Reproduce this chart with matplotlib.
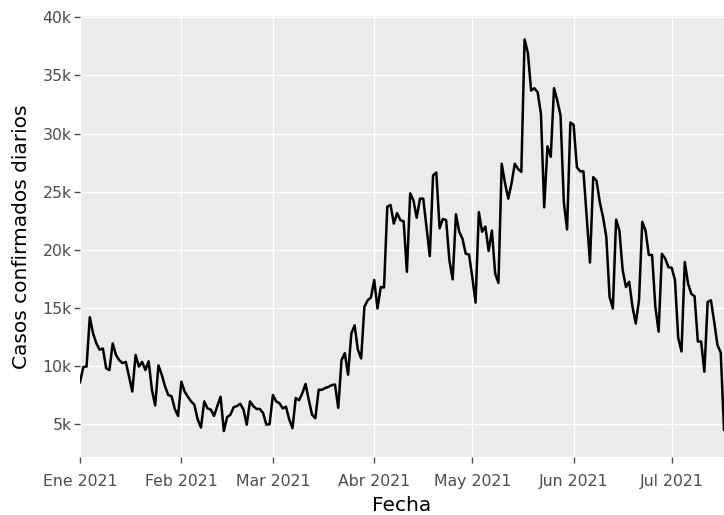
import numpy as np
import pandas as pd
import matplotlib
matplotlib.use("Agg")
import matplotlib.pyplot as plt

# casos diarios (1 ene 2021 en adelante)
casos = [
    8600, 9900, 9950, 14200, 12800, 11950, 11400, 11500, 9800, 9650,
    11950, 10950, 10500, 10250, 10350, 9100, 7800, 10950, 9950, 10350,
    9650, 10400, 7950, 6600, 10050, 9250, 8250, 7500, 7400, 6300,
    5700, 8650, 7800, 7350, 6950, 6650, 5400, 4700, 6950, 6350,
    6250, 5700, 6550, 7350, 4400, 5600, 5800, 6450, 6550, 6750,
    6250, 4950, 6950, 6550, 6300, 6300, 5950, 4950, 5000, 7500,
    6950, 6800, 6350, 6500, 5400, 4650, 7250, 7050, 7650, 8450,
    7050, 5800, 5500, 7950, 7950, 8100, 8200, 8350, 8400, 6400,
    10500, 11100, 9250, 12800, 13500, 11400, 10650, 15100, 15650, 15900,
    17400, 14950, 16800, 16750, 23700, 23850, 22250, 23150, 22550, 22450,
    18100, 24850, 24250, 22750, 24400, 24400, 21950, 19450, 26400, 26650,
    21850, 22650, 22550, 19100, 17450, 23050, 21550, 20950, 19650, 19600,
    17650, 15450, 23250, 21550, 22000, 19900, 21650, 17950, 17150, 27400,
    25750, 24400, 25700, 27400, 26950, 26700, 38100, 36950, 33700, 33900,
    33550, 31700, 23650, 28900, 28000, 33900, 32850, 31550, 24100, 21750,
    30950, 30750, 27100, 26750, 26750, 22800, 18900, 26250, 25950, 24100,
    22800, 21100, 15950, 14950, 22600, 21650, 18250, 16800, 17250, 15100,
    13650, 15650, 22400, 21650, 19550, 19550, 15100, 12950, 19650, 19250,
    18500, 18450, 17400, 12400, 11250, 18950, 17100, 16200, 16000, 12100,
    12100, 9500, 15500, 15650, 13800, 11800, 11150, 4500,
]
fechas = pd.date_range("2021-01-01", periods=len(casos), freq="D")

mes_ticks = pd.to_datetime(["2021-01-01", "2021-02-01", "2021-03-01", "2021-04-01",
                            "2021-05-01", "2021-06-01", "2021-07-01"])
mes_labels = ["Ene 2021", "Feb 2021", "Mar 2021", "Abr 2021", "May 2021", "Jun 2021", "Jul 2021"]
y_ticks = [5000, 10000, 15000, 20000, 25000, 30000, 35000, 40000]
y_labels = ["5k", "10k", "15k", "20k", "25k", "30k", "35k", "40k"]

plt.rcParams["font.family"] = ["DejaVu Sans"]

fig = plt.figure(figsize=(7.24, 5.15), dpi=100)
ax = fig.add_axes([0.1105, 0.112, 0.8895, 0.8575])
ax.set_facecolor("#EBEBEB")
for s in ax.spines.values():
    s.set_visible(False)

ax.plot(fechas, casos, color="black", lw=1.8, zorder=3)

ax.set_xticks(mes_ticks)
ax.set_xticklabels(mes_labels)
ax.set_yticks(y_ticks)
ax.set_yticklabels(y_labels)
ax.set_xlim(fechas[0], fechas[-1])
ax.set_ylim(2140, 40140)

ax.grid(True, color="white", lw=0.9, zorder=0)
ax.set_axisbelow(True)
ax.tick_params(axis="both", colors="#4D4D4D", labelsize=11.3, length=4, width=1)
ax.tick_params(axis="x", pad=8)
ax.tick_params(axis="y", pad=2)

ax.set_xlabel("Fecha", fontsize=14.5, color="black", labelpad=5)
ax.set_ylabel("Casos confirmados diarios", fontsize=14.5, color="black", labelpad=8)

fig.savefig("out.png", dpi=100)
